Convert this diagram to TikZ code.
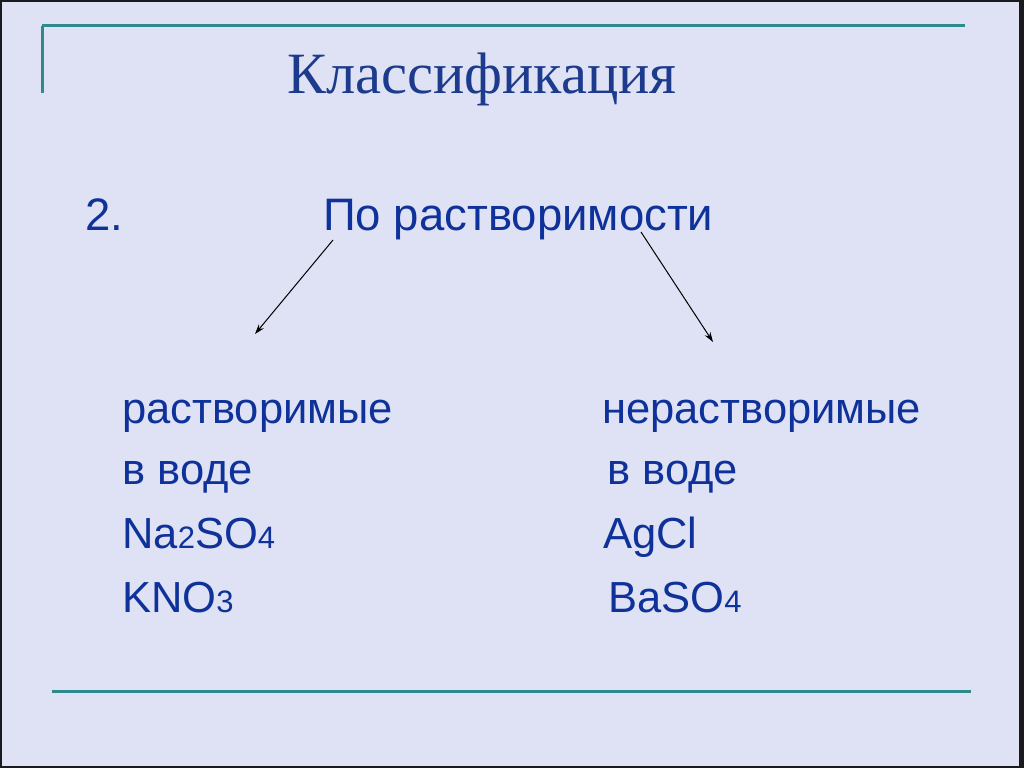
\documentclass[tikz,border=0pt]{standalone}
\usepackage{fontspec}
\setmainfont{Liberation Sans}
\newfontfamily\titlefont{Liberation Serif}
\usetikzlibrary{arrows.meta}
\definecolor{bgc}{HTML}{DFE1F4}
\definecolor{framec}{HTML}{1A1A1E}
\definecolor{tealc}{HTML}{2E8A8C}
\definecolor{titlec}{HTML}{1D3B8C}
\definecolor{textc}{HTML}{0E3299}
\tikzset{
  txt/.style={anchor=base west, inner sep=0pt, text=textc, font=\fontsize{43.5}{43.5}\selectfont},
  rule/.style={draw=tealc, line width=3pt},
  arr/.style={draw=black, line width=1pt, -{Stealth[length=10pt,width=6.5pt]}}
}
\newcommand{\sm}[1]{{\fontsize{31}{31}\selectfont #1}}
\begin{document}
\begin{tikzpicture}[x=1pt,y=-1pt]
\useasboundingbox (0,0) rectangle (1024,768);
\fill[framec] (0,0) rectangle (1024,768);
\fill[bgc] (2,2) rectangle (1019,766);
% rules
\draw[rule] (42,26) -- (965,26);
\draw[rule] (42,26) -- (42,93);
\draw[rule] (52,691) -- (971,691);
% title
\node[anchor=base west, inner sep=0pt, text=titlec, font=\titlefont\fontsize{58.5}{58.5}\selectfont] (title) at (287,93) {Классификация};
% heading
\node[txt, font=\fontsize{45.5}{45.5}\selectfont] (num) at (85,230) {2.};
\node[txt, font=\fontsize{45.5}{45.5}\selectfont] (head) at (323,230) {По растворимости};
% left column
\node[txt] (l1) at (122,423) {растворимые};
\node[txt] (l2) at (122,484) {в воде};
\node[txt] (l3) at (122,548) {Na\sm{2}SO\sm{4}};
\node[txt] (l4) at (122,612) {KNO\sm{3}};
% right column
\node[txt] (r1) at (602,423) {нерастворимые};
\node[txt] (r2) at (607,484) {в воде};
\node[txt] (r3) at (603,548) {AgCl};
\node[txt] (r4) at (608,612) {BaSO\sm{4}};
% arrows
\coordinate (a1s) at (333,240);
\coordinate (a1e) at (255,334);
\coordinate (a2s) at (641,232);
\coordinate (a2e) at (713,342);
\draw[arr] (a1s) -- (a1e);
\draw[arr] (a2s) -- (a2e);
\end{tikzpicture}
\end{document}
